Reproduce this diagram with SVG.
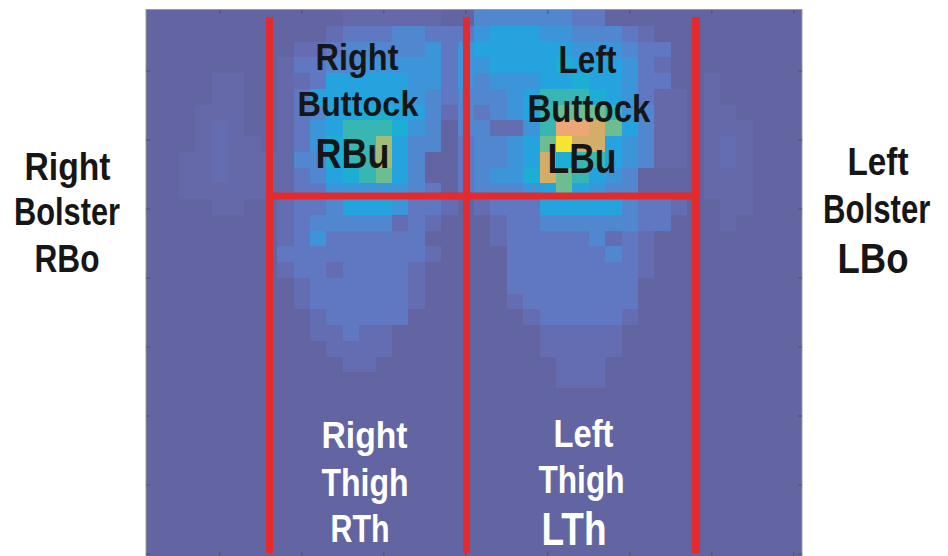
<svg xmlns="http://www.w3.org/2000/svg" width="948" height="556" viewBox="0 0 948 556">
<style>
.t{font-family:"Liberation Sans",Arial,sans-serif;font-weight:bold}
.k{fill:#161616}.w{fill:#ffffff}
.qa{fill:#6568a9}.q1{fill:#656db2}.q2{fill:#6077c1}.q3{fill:#5087cf}.q4{fill:#3d95d9}.q5{fill:#25a3de}.q6{fill:#1daed4}.q7{fill:#38b6b2}.q8{fill:#6dbd92}.q9{fill:#a2bd76}.q10{fill:#d4ae66}.q11{fill:#eca776}.q12{fill:#f7e42f}
.red{stroke:#e42a2d;fill:none}
.tick{stroke:#555;stroke-width:1}
</style>
<rect x="0" y="0" width="948" height="556" fill="#ffffff"/>
<rect x="146" y="9.5" width="656" height="550" fill="#6365a2" stroke="#9a9a9a" stroke-width="1"/>
<g id="heatmap" transform="translate(146,10) scale(16.4,15.75)" shape-rendering="crispEdges">
<!-- right bolster -->
<rect x="4" y="4" width="2" height="2" class="qa"/>
<rect x="3" y="6" width="3" height="1" class="qa"/>
<rect x="3" y="7" width="1" height="2" class="qa"/><rect x="4" y="7" width="1" height="4" class="q1"/><rect x="5" y="7" width="1" height="1" class="qa"/>
<rect x="5" y="8" width="2" height="1" class="qa"/>
<rect x="2" y="9" width="2" height="2" class="qa"/><rect x="5" y="9" width="3" height="2" class="qa"/>
<rect x="2" y="11" width="6" height="1" class="qa"/>
<rect x="4" y="12" width="2" height="1" class="qa"/>
<!-- left bolster -->
<rect x="34" y="4" width="1" height="2" class="qa"/>
<rect x="34" y="6" width="2" height="1" class="qa"/>
<rect x="34" y="7" width="3" height="1" class="qa"/>
<rect x="34" y="8" width="1" height="2" class="qa"/><rect x="35" y="8" width="1" height="2" class="q1"/><rect x="36" y="8" width="1" height="2" class="qa"/>
<rect x="34" y="10" width="3" height="2" class="qa"/>
<rect x="35" y="12" width="2" height="1" class="qa"/>
<rect x="35" y="13" width="1" height="1" class="qa"/>
<!-- right buttock -->
<rect x="8" y="3" width="1" height="9" class="qa"/>
<rect x="12" y="0" width="6" height="1" class="qa"/>
<rect x="11" y="1" width="1" height="1" class="q1"/><rect x="12" y="1" width="3" height="1" class="q2"/><rect x="15" y="1" width="2" height="1" class="q3"/><rect x="17" y="1" width="3" height="1" class="q2"/>
<rect x="9" y="2" width="2" height="1" class="q1"/><rect x="11" y="2" width="1" height="1" class="q2"/><rect x="12" y="2" width="5" height="1" class="q3"/><rect x="17" y="2" width="1" height="1" class="q4"/><rect x="18" y="2" width="1" height="1" class="q2"/><rect x="19" y="2" width="1" height="3" class="q4"/>
<rect x="9" y="3" width="2" height="1" class="q2"/><rect x="11" y="3" width="2" height="1" class="q3"/><rect x="13" y="3" width="5" height="1" class="q4"/><rect x="18" y="3" width="1" height="1" class="q2"/>
<rect x="9" y="4" width="1" height="1" class="q1"/><rect x="10" y="4" width="1" height="1" class="q2"/><rect x="11" y="4" width="5" height="1" class="q5"/><rect x="16" y="4" width="2" height="1" class="q4"/><rect x="18" y="4" width="1" height="1" class="q2"/>
<rect x="9" y="5" width="1" height="1" class="q2"/><rect x="10" y="5" width="6" height="1" class="q5"/><rect x="16" y="5" width="1" height="1" class="q4"/><rect x="17" y="5" width="1" height="1" class="q3"/><rect x="18" y="5" width="1" height="1" class="q2"/><rect x="19" y="5" width="1" height="3" class="q3"/>
<rect x="9" y="6" width="1" height="1" class="q2"/><rect x="10" y="6" width="1" height="1" class="q3"/><rect x="11" y="6" width="2" height="1" class="q5"/><rect x="13" y="6" width="2" height="1" class="q6"/><rect x="15" y="6" width="2" height="1" class="q5"/><rect x="17" y="6" width="1" height="1" class="q3"/><rect x="18" y="6" width="1" height="1" class="q1"/>
<rect x="9" y="7" width="1" height="1" class="q2"/><rect x="10" y="7" width="1" height="1" class="q4"/><rect x="11" y="7" width="1" height="1" class="q5"/><rect x="12" y="7" width="3" height="1" class="q7"/><rect x="15" y="7" width="1" height="1" class="q6"/><rect x="16" y="7" width="1" height="1" class="q4"/><rect x="17" y="7" width="1" height="1" class="q3"/>
<rect x="9" y="8" width="1" height="1" class="q2"/><rect x="10" y="8" width="1" height="1" class="q4"/><rect x="11" y="8" width="1" height="2" class="q6"/><rect x="12" y="8" width="2" height="2" class="q7"/><rect x="14" y="8" width="1" height="2" class="q9"/><rect x="15" y="8" width="1" height="2" class="q5"/><rect x="16" y="8" width="2" height="1" class="q3"/><rect x="19" y="8" width="1" height="4" class="q2"/>
<rect x="9" y="9" width="2" height="1" class="q3"/><rect x="16" y="9" width="1" height="1" class="q3"/>
<rect x="9" y="10" width="1" height="1" class="q2"/><rect x="10" y="10" width="1" height="1" class="q3"/><rect x="11" y="10" width="1" height="1" class="q5"/><rect x="12" y="10" width="1" height="1" class="q6"/><rect x="13" y="10" width="1" height="1" class="q7"/><rect x="14" y="10" width="1" height="1" class="q8"/><rect x="15" y="10" width="1" height="1" class="q5"/><rect x="16" y="10" width="1" height="1" class="q3"/>
<rect x="9" y="11" width="2" height="1" class="q2"/><rect x="11" y="11" width="5" height="1" class="q4"/><rect x="16" y="11" width="1" height="1" class="q3"/><rect x="17" y="11" width="1" height="1" class="q2"/>
<!-- left buttock -->
<rect x="31" y="5" width="2" height="5" class="qa"/>
<rect x="20" y="0" width="6" height="1" class="q3"/><rect x="26" y="0" width="2" height="1" class="q2"/>
<rect x="20" y="1" width="1" height="1" class="q4"/><rect x="21" y="1" width="3" height="1" class="q5"/><rect x="24" y="1" width="2" height="1" class="q4"/><rect x="26" y="1" width="3" height="1" class="q3"/><rect x="29" y="1" width="1" height="1" class="q2"/><rect x="30" y="1" width="1" height="1" class="q1"/>
<rect x="20" y="2" width="6" height="1" class="q5"/><rect x="26" y="2" width="3" height="1" class="q4"/><rect x="29" y="2" width="1" height="1" class="q3"/><rect x="30" y="2" width="2" height="1" class="q2"/>
<rect x="20" y="3" width="1" height="1" class="q4"/><rect x="21" y="3" width="4" height="1" class="q5"/><rect x="25" y="3" width="1" height="1" class="q6"/><rect x="26" y="3" width="3" height="1" class="q5"/><rect x="29" y="3" width="1" height="1" class="q4"/><rect x="30" y="3" width="1" height="1" class="q2"/><rect x="31" y="3" width="1" height="1" class="q1"/>
<rect x="20" y="4" width="1" height="1" class="q3"/><rect x="21" y="4" width="3" height="1" class="q4"/><rect x="24" y="4" width="2" height="1" class="q5"/><rect x="26" y="4" width="1" height="1" class="q6"/><rect x="27" y="4" width="2" height="1" class="q5"/><rect x="29" y="4" width="1" height="1" class="q4"/><rect x="30" y="4" width="2" height="1" class="q2"/>
<rect x="20" y="5" width="2" height="1" class="q3"/><rect x="22" y="5" width="1" height="1" class="q4"/><rect x="23" y="5" width="1" height="1" class="q5"/><rect x="24" y="5" width="3" height="1" class="q7"/><rect x="27" y="5" width="1" height="1" class="q6"/><rect x="28" y="5" width="1" height="1" class="q5"/><rect x="29" y="5" width="1" height="1" class="q4"/><rect x="30" y="5" width="1" height="1" class="q2"/>
<rect x="20" y="6" width="1" height="1" class="q2"/><rect x="21" y="6" width="1" height="1" class="q3"/><rect x="22" y="6" width="1" height="1" class="q4"/><rect x="23" y="6" width="1" height="1" class="q5"/><rect x="24" y="6" width="1" height="1" class="q7"/><rect x="25" y="6" width="3" height="1" class="q8"/><rect x="28" y="6" width="1" height="1" class="q7"/><rect x="29" y="6" width="1" height="1" class="q4"/><rect x="30" y="6" width="1" height="1" class="q3"/>
<rect x="20" y="7" width="1" height="1" class="q3"/><rect x="21" y="7" width="2" height="1" class="q1"/><rect x="23" y="7" width="1" height="1" class="q4"/><rect x="24" y="7" width="1" height="1" class="q7"/><rect x="25" y="7" width="2" height="1" class="q11"/><rect x="27" y="7" width="1" height="1" class="q10"/><rect x="28" y="7" width="1" height="1" class="q8"/><rect x="29" y="7" width="1" height="1" class="q5"/><rect x="30" y="7" width="1" height="1" class="q3"/>
<rect x="20" y="8" width="2" height="2" class="q3"/><rect x="22" y="8" width="1" height="2" class="q4"/><rect x="23" y="8" width="1" height="2" class="q5"/><rect x="24" y="8" width="1" height="1" class="q8"/><rect x="25" y="8" width="1" height="1" class="q12"/><rect x="26" y="8" width="2" height="1" class="q10"/><rect x="28" y="8" width="1" height="2" class="q5"/><rect x="29" y="8" width="1" height="2" class="q4"/><rect x="30" y="8" width="1" height="2" class="q3"/>
<rect x="24" y="9" width="1" height="2" class="q10"/><rect x="25" y="9" width="1" height="1" class="q6"/><rect x="26" y="9" width="2" height="1" class="q7"/>
<rect x="20" y="10" width="1" height="1" class="q3"/><rect x="21" y="10" width="2" height="1" class="q4"/><rect x="23" y="10" width="1" height="1" class="q6"/><rect x="25" y="10" width="1" height="1" class="q8"/><rect x="26" y="10" width="1" height="1" class="q7"/><rect x="27" y="10" width="1" height="1" class="q5"/><rect x="28" y="10" width="1" height="1" class="q4"/><rect x="29" y="10" width="1" height="1" class="q3"/>
<rect x="20" y="11" width="3" height="1" class="q3"/><rect x="23" y="11" width="1" height="1" class="q4"/><rect x="24" y="11" width="1" height="1" class="q5"/><rect x="25" y="11" width="1" height="1" class="q8"/><rect x="26" y="11" width="1" height="1" class="q5"/><rect x="27" y="11" width="1" height="1" class="q4"/><rect x="28" y="11" width="2" height="1" class="q3"/>
<!-- right thigh -->
<rect x="8" y="12" width="1" height="1" class="q1"/><rect x="9" y="12" width="2" height="1" class="q2"/><rect x="11" y="12" width="1" height="1" class="q3"/><rect x="12" y="12" width="3" height="1" class="q5"/><rect x="15" y="12" width="1" height="1" class="q4"/><rect x="16" y="12" width="2" height="1" class="q2"/><rect x="18" y="12" width="1" height="1" class="q1"/>
<rect x="8" y="13" width="1" height="2" class="q1"/><rect x="9" y="13" width="1" height="2" class="q2"/><rect x="10" y="13" width="5" height="1" class="q3"/><rect x="15" y="13" width="1" height="1" class="q1"/><rect x="16" y="13" width="1" height="1" class="q2"/><rect x="17" y="13" width="1" height="1" class="q1"/>
<rect x="10" y="14" width="1" height="1" class="q4"/><rect x="11" y="14" width="6" height="1" class="q2"/>
<rect x="8" y="15" width="9" height="1" class="q2"/><rect x="17" y="15" width="1" height="1" class="q1"/>
<rect x="8" y="16" width="1" height="1" class="q1"/><rect x="9" y="16" width="2" height="1" class="q2"/><rect x="11" y="16" width="1" height="1" class="q1"/><rect x="12" y="16" width="4" height="1" class="q2"/><rect x="16" y="16" width="1" height="3" class="q1"/>
<rect x="9" y="17" width="1" height="2" class="q1"/><rect x="10" y="17" width="6" height="2" class="q2"/>
<rect x="10" y="19" width="1" height="1" class="q1"/><rect x="11" y="19" width="5" height="1" class="q2"/>
<rect x="10" y="20" width="2" height="1" class="q1"/><rect x="12" y="20" width="1" height="1" class="q2"/><rect x="13" y="20" width="2" height="1" class="q1"/>
<rect x="11" y="21" width="4" height="1" class="q1"/>
<rect x="12" y="22" width="2" height="1" class="q1"/>
<!-- left thigh -->
<rect x="20" y="12" width="1" height="1" class="q1"/><rect x="21" y="12" width="3" height="1" class="q2"/><rect x="24" y="12" width="5" height="1" class="q5"/><rect x="29" y="12" width="1" height="1" class="q3"/><rect x="30" y="12" width="2" height="1" class="q2"/><rect x="32" y="12" width="1" height="1" class="q1"/>
<rect x="21" y="13" width="1" height="2" class="q1"/><rect x="22" y="13" width="2" height="1" class="q2"/><rect x="24" y="13" width="6" height="1" class="q3"/><rect x="30" y="13" width="2" height="1" class="q2"/>
<rect x="22" y="14" width="5" height="1" class="q2"/><rect x="27" y="14" width="1" height="1" class="q3"/><rect x="28" y="14" width="1" height="1" class="q1"/><rect x="29" y="14" width="1" height="1" class="q2"/><rect x="30" y="14" width="1" height="3" class="q1"/>
<rect x="22" y="15" width="6" height="1" class="q2"/><rect x="28" y="15" width="1" height="1" class="q3"/><rect x="29" y="15" width="1" height="1" class="q2"/>
<rect x="22" y="16" width="8" height="2" class="q2"/>
<rect x="22" y="18" width="1" height="1" class="q1"/><rect x="23" y="18" width="7" height="1" class="q2"/>
<rect x="23" y="19" width="1" height="1" class="q1"/><rect x="24" y="19" width="5" height="1" class="q2"/><rect x="29" y="19" width="1" height="1" class="q1"/>
<rect x="24" y="20" width="5" height="2" class="q1"/>
<rect x="25" y="22" width="3" height="2" class="q1"/>
</g>
<g id="axes-ticks" class="tick">
<path d="M219.8 10v4M301.8 10v4M383.8 10v4M465.8 10v4M547.8 10v4M629.8 10v4M711.8 10v4M793.8 10v4"/>
<path d="M219.8 556v-4M301.8 556v-4M383.8 556v-4M465.8 556v-4M547.8 556v-4M629.8 556v-4M711.8 556v-4M793.8 556v-4"/>
<path d="M146 71h4M146 140h4M146 209h4M146 278h4M146 347h4M146 416h4M146 485h4M146 554h4"/>
<path d="M802 71h-4M802 140h-4M802 209h-4M802 278h-4M802 347h-4M802 416h-4M802 485h-4M802 554h-4"/>
</g>
<g id="zone-lines" class="red">
<line x1="269.5" y1="17" x2="269.5" y2="553" stroke-width="7"/>
<line x1="466.5" y1="17" x2="466.5" y2="553" stroke-width="7"/>
<line x1="696" y1="17" x2="696" y2="553" stroke-width="8"/>
<line x1="266" y1="196" x2="700" y2="196" stroke-width="7"/>
</g>
<g id="label-RBo" class="t k">
<text x="24.5" y="180" font-size="38" textLength="86" lengthAdjust="spacingAndGlyphs">Right</text>
<text x="14" y="225" font-size="38" textLength="106" lengthAdjust="spacingAndGlyphs">Bolster</text>
<text x="34.5" y="272" font-size="38" textLength="65" lengthAdjust="spacingAndGlyphs">RBo</text>
</g>
<g id="label-LBo" class="t k">
<text x="847.5" y="175" font-size="39" textLength="61" lengthAdjust="spacingAndGlyphs">Left</text>
<text transform="translate(823,223) scale(0.76,1)" x="0" y="0" font-size="41">Bolster</text>
<text x="837.5" y="273" font-size="42" textLength="71" lengthAdjust="spacingAndGlyphs">LBo</text>
</g>
<g id="label-RBu" class="t k">
<text x="315.5" y="70" font-size="36" textLength="83" lengthAdjust="spacingAndGlyphs">Right</text>
<text x="297.5" y="116" font-size="35" textLength="121" lengthAdjust="spacingAndGlyphs">Buttock</text>
<text x="315.5" y="168" font-size="43" textLength="74" lengthAdjust="spacingAndGlyphs">RBu</text>
</g>
<g id="label-LBu" class="t k">
<text x="558.5" y="73" font-size="38" textLength="58" lengthAdjust="spacingAndGlyphs">Left</text>
<text x="527.5" y="122" font-size="38" textLength="123" lengthAdjust="spacingAndGlyphs">Buttock</text>
<text x="547.5" y="173" font-size="43" textLength="69" lengthAdjust="spacingAndGlyphs">LBu</text>
</g>
<g id="label-RTh" class="t w">
<text x="321.5" y="448" font-size="37" textLength="86" lengthAdjust="spacingAndGlyphs">Right</text>
<text x="321.5" y="496" font-size="38" textLength="87" lengthAdjust="spacingAndGlyphs">Thigh</text>
<text x="330.5" y="542" font-size="38" textLength="59" lengthAdjust="spacingAndGlyphs">RTh</text>
</g>
<g id="label-LTh" class="t w">
<text x="553.5" y="447" font-size="38" textLength="60" lengthAdjust="spacingAndGlyphs">Left</text>
<text x="538.5" y="493" font-size="39" textLength="86" lengthAdjust="spacingAndGlyphs">Thigh</text>
<text x="541.5" y="545" font-size="46" textLength="65" lengthAdjust="spacingAndGlyphs">LTh</text>
</g>
</svg>
